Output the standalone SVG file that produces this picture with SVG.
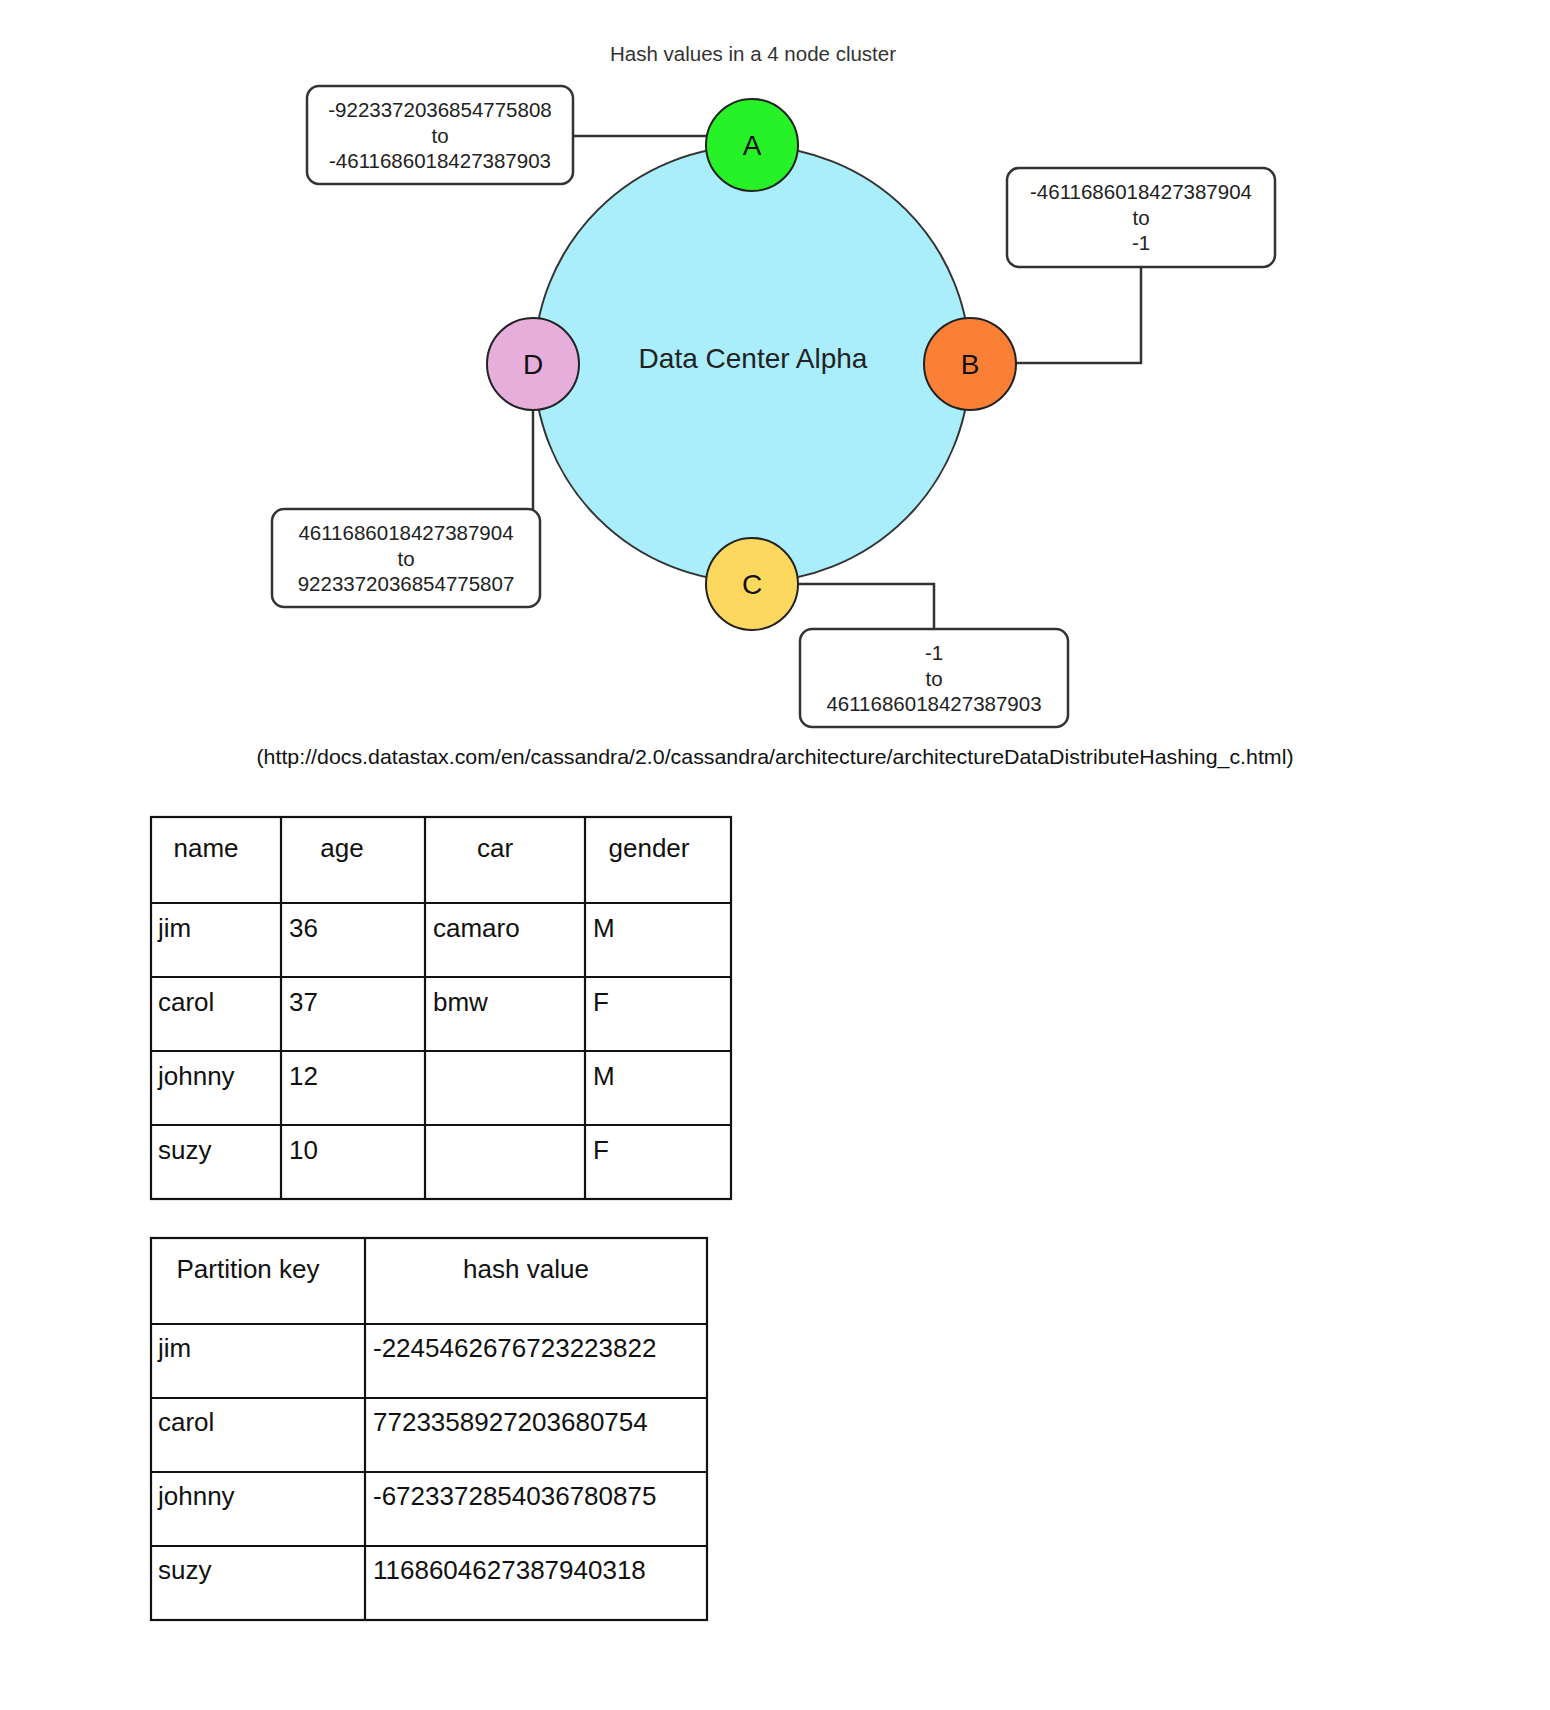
<svg xmlns="http://www.w3.org/2000/svg" width="1550" height="1710" viewBox="0 0 1550 1710">
<style>
text{font-family:"Liberation Sans",Arial,sans-serif}
.title{font-size:20.5px;fill:#333;text-anchor:middle}
.node{stroke:#222;stroke-width:2}
.lbl{font-size:28px;fill:#111;text-anchor:middle}
.box{fill:#fff;stroke:#333;stroke-width:2.5}
.bt{font-size:20.5px;fill:#222;text-anchor:middle}
.conn{fill:none;stroke:#333;stroke-width:2.5}
.tbl{fill:none;stroke:#111;stroke-width:2.2}
.tt{font-size:26px;fill:#111}
.th{font-size:26px;fill:#111;text-anchor:middle}
</style>
<rect width="1550" height="1710" fill="#fff"/>
<text class="title" x="753" y="61">Hash values in a 4 node cluster</text>

<g id="connectors">
<path class="conn" d="M573 136 H708"/>
<path class="conn" d="M1016 363 H1141 V267"/>
<path class="conn" d="M533 410 V509"/>
<path class="conn" d="M797 584 H934 V629"/>
</g>

<g id="ring">
<circle cx="752" cy="364" r="218" fill="#AAEEFC" stroke="#333" stroke-width="2"/>
<text x="753" y="368" style="font-size:28px;fill:#222;text-anchor:middle">Data Center Alpha</text>
</g>

<g id="node-A"><circle class="node" cx="752" cy="145" r="46" fill="#27F127"/><text class="lbl" x="752" y="155">A</text></g>
<g id="node-B"><circle class="node" cx="970" cy="364" r="46" fill="#FB8035"/><text class="lbl" x="970" y="374">B</text></g>
<g id="node-C"><circle class="node" cx="752" cy="584" r="46" fill="#FCD95E"/><text class="lbl" x="752" y="594">C</text></g>
<g id="node-D"><circle class="node" cx="533" cy="364" r="46" fill="#E6AEDB"/><text class="lbl" x="533" y="374">D</text></g>

<g id="range-A"><rect class="box" x="307" y="86" width="266" height="98" rx="12"/>
<text class="bt" x="440" y="117">-9223372036854775808</text><text class="bt" x="440" y="143">to</text><text class="bt" x="440" y="168">-4611686018427387903</text></g>
<g id="range-B"><rect class="box" x="1007" y="168" width="268" height="99" rx="12"/>
<text class="bt" x="1141" y="199">-4611686018427387904</text><text class="bt" x="1141" y="225">to</text><text class="bt" x="1141" y="250">-1</text></g>
<g id="range-D"><rect class="box" x="272" y="509" width="268" height="98" rx="12"/>
<text class="bt" x="406" y="540">4611686018427387904</text><text class="bt" x="406" y="566">to</text><text class="bt" x="406" y="591">9223372036854775807</text></g>
<g id="range-C"><rect class="box" x="800" y="629" width="268" height="98" rx="12"/>
<text class="bt" x="934" y="660">-1</text><text class="bt" x="934" y="686">to</text><text class="bt" x="934" y="711">4611686018427387903</text></g>

<text x="775" y="764" style="font-size:21px;fill:#111;text-anchor:middle" textLength="1037" lengthAdjust="spacingAndGlyphs">(http://docs.datastax.com/en/cassandra/2.0/cassandra/architecture/architectureDataDistributeHashing_c.html)</text>

<g id="table-people">
<rect class="tbl" x="151" y="817" width="580" height="382"/>
<path class="tbl" d="M281 817V1199M425 817V1199M585 817V1199M151 903H731M151 977H731M151 1051H731M151 1125H731"/>
<text class="th" x="206" y="857">name</text><text class="th" x="342" y="857">age</text><text class="th" x="495" y="857">car</text><text class="th" x="649" y="857">gender</text>
<text class="tt" x="158" y="937">jim</text><text class="tt" x="289" y="937">36</text><text class="tt" x="433" y="937">camaro</text><text class="tt" x="593" y="937">M</text>
<text class="tt" x="158" y="1011">carol</text><text class="tt" x="289" y="1011">37</text><text class="tt" x="433" y="1011">bmw</text><text class="tt" x="593" y="1011">F</text>
<text class="tt" x="158" y="1085">johnny</text><text class="tt" x="289" y="1085">12</text><text class="tt" x="593" y="1085">M</text>
<text class="tt" x="158" y="1159">suzy</text><text class="tt" x="289" y="1159">10</text><text class="tt" x="593" y="1159">F</text>
</g>

<g id="table-hash">
<rect class="tbl" x="151" y="1238" width="556" height="382"/>
<path class="tbl" d="M365 1238V1620M151 1324H707M151 1398H707M151 1472H707M151 1546H707"/>
<text class="th" x="248" y="1278">Partition key</text><text class="th" x="526" y="1278">hash value</text>
<text class="tt" x="158" y="1357">jim</text><text class="tt" x="373" y="1357">-2245462676723223822</text>
<text class="tt" x="158" y="1431">carol</text><text class="tt" x="373" y="1431">7723358927203680754</text>
<text class="tt" x="158" y="1505">johnny</text><text class="tt" x="373" y="1505">-6723372854036780875</text>
<text class="tt" x="158" y="1579">suzy</text><text class="tt" x="373" y="1579">1168604627387940318</text>
</g>
</svg>
